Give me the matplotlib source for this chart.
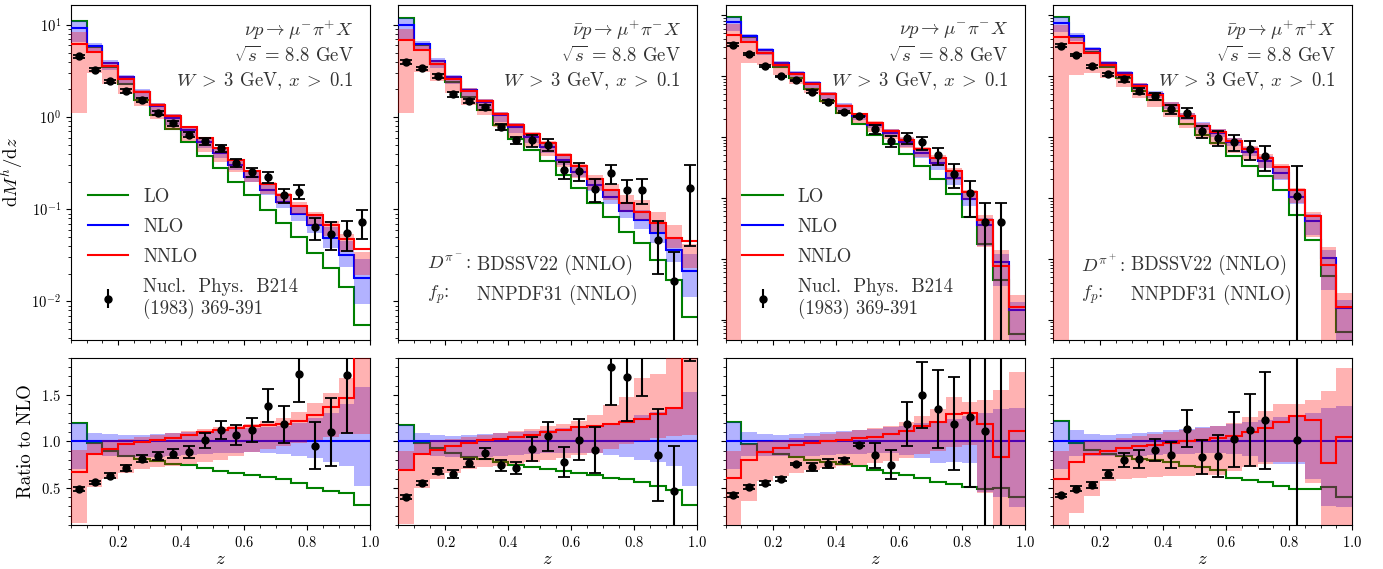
import matplotlib
matplotlib.use("Agg")
import matplotlib.pyplot as plt
import numpy as np
from matplotlib.lines import Line2D
from matplotlib.ticker import LogLocator, MultipleLocator, NullFormatter

plt.rcParams.update({
    "font.family": "serif",
    "font.serif": ["cmr10"],
    "mathtext.fontset": "cm",
    "axes.formatter.use_mathtext": True,
    "font.size": 13.5,
    "xtick.labelsize": 10.5,
    "ytick.labelsize": 10.5,
})

# z bins (0.05 wide) and bin centres for the data
z_edges = [0.05, 0.10, 0.15, 0.20, 0.25, 0.30, 0.35, 0.40, 0.45, 0.50,
           0.55, 0.60, 0.65, 0.70, 0.75, 0.80, 0.85, 0.90, 0.95, 1.00]
z_mid = [0.075, 0.125, 0.175, 0.225, 0.275, 0.325, 0.375, 0.425, 0.475, 0.525,
         0.575, 0.625, 0.675, 0.725, 0.775, 0.825, 0.875, 0.925, 0.975]
nan = np.nan

# --- panel 1: nu p -> mu- pi+ X ---
nlo_1 = [9.3, 5.9, 3.9, 2.7, 1.88, 1.32, 0.99, 0.73, 0.54, 0.41, 0.30, 0.224, 0.161, 0.12, 0.090, 0.067, 0.049, 0.032, 0.018]
lo_1 = [1.20, 0.98, 0.90, 0.84, 0.81, 0.79, 0.76, 0.745, 0.71, 0.68, 0.66, 0.64, 0.615, 0.59, 0.555, 0.50, 0.47, 0.445, 0.31]
nnlo_1 = [0.67, 0.86, 0.92, 0.97, 0.99, 1.02, 1.04, 1.07, 1.10, 1.12, 1.14, 1.16, 1.18, 1.19, 1.22, 1.28, 1.37, 1.47, 2.05]
nlo_lo_1 = [0.70, 0.86, 0.84, 0.83, 0.83, 0.83, 0.84, 0.85, 0.86, 0.87, 0.88, 0.89, 0.88, 0.86, 0.84, 0.82, 0.78, 0.73, 0.52]
nlo_hi_1 = [1.20, 1.09, 1.08, 1.07, 1.07, 1.08, 1.09, 1.10, 1.11, 1.12, 1.13, 1.14, 1.15, 1.17, 1.20, 1.25, 1.30, 1.40, 1.59]
nnlo_lo_1 = [0.12, 0.51, 0.59, 0.66, 0.70, 0.72, 0.74, 0.76, 0.78, 0.80, 0.84, 0.89, 0.92, 0.95, 0.98, 1.02, 1.05, 1.08, 1.08]
nnlo_hi_1 = [0.91, 0.98, 1.01, 1.03, 1.05, 1.07, 1.09, 1.11, 1.13, 1.15, 1.17, 1.19, 1.22, 1.25, 1.32, 1.41, 1.52, 1.68, 1.92]
data_1 = [4.56, 3.29, 2.46, 1.93, 1.53, 1.11, 0.86, 0.647, 0.545, 0.46, 0.32, 0.252, 0.223, 0.142, 0.155, 0.064, 0.054, 0.055, 0.073]
err_1 = [0.19, 0.12, 0.10, 0.08, 0.075, 0.053, 0.05, 0.044, 0.042, 0.041, 0.033, 0.029, 0.029, 0.024, 0.027, 0.017, 0.018, 0.02, 0.025]

# --- panel 2: nubar p -> mu+ pi- X ---
nlo_2 = [10.0, 6.17, 4.1, 2.74, 1.96, 1.47, 1.05, 0.785, 0.61, 0.475, 0.347, 0.255, 0.182, 0.136, 0.097, 0.076, 0.055, 0.036, 0.0214]
lo_2 = [1.18, 0.98, 0.93, 0.875, 0.836, 0.814, 0.78, 0.743, 0.72, 0.707, 0.68, 0.66, 0.643, 0.607, 0.59, 0.564, 0.518, 0.475, 0.32]
nnlo_2 = [0.69, 0.86, 0.91, 0.95, 0.98, 1.01, 1.03, 1.05, 1.07, 1.10, 1.125, 1.15, 1.17, 1.19, 1.21, 1.24, 1.29, 1.36, 2.1]
nlo_lo_2 = [0.70, 0.86, 0.84, 0.83, 0.83, 0.83, 0.84, 0.85, 0.86, 0.87, 0.88, 0.88, 0.87, 0.85, 0.83, 0.80, 0.78, 0.74, 0.52]
nlo_hi_2 = [1.18, 1.09, 1.07, 1.06, 1.07, 1.08, 1.09, 1.10, 1.11, 1.12, 1.14, 1.15, 1.16, 1.19, 1.23, 1.28, 1.32, 1.36, 1.53]
nnlo_lo_2 = [0.11, 0.50, 0.60, 0.66, 0.70, 0.72, 0.74, 0.76, 0.78, 0.80, 0.82, 0.85, 0.88, 0.92, 0.97, 1.00, 1.04, 1.06, 1.07]
nnlo_hi_2 = [0.90, 0.98, 1.01, 1.03, 1.05, 1.07, 1.09, 1.11, 1.13, 1.16, 1.19, 1.22, 1.28, 1.39, 1.48, 1.68, 1.72, 1.90, 1.95]
data_2 = [4.0, 3.4, 2.8, 1.78, 1.5, 1.28, 0.78, 0.56, 0.56, 0.5, 0.27, 0.26, 0.166, 0.245, 0.164, 0.164, 0.047, 0.0168, 0.17]
err_2 = [0.2, 0.14, 0.14, 0.11, 0.09, 0.09, 0.06, 0.05, 0.08, 0.075, 0.055, 0.055, 0.045, 0.056, 0.046, 0.051, 0.027, 0.0175, 0.13]

# --- panel 3: nu p -> mu- pi- X ---
nlo_3 = [7.8, 4.5, 2.67, 1.65, 1.13, 0.76, 0.50, 0.32, 0.224, 0.158, 0.115, 0.081, 0.054, 0.037, 0.021, 0.0095, 0.0036, 0.0009, 0.000145]
lo_3 = [1.21, 0.97, 0.89, 0.86, 0.83, 0.80, 0.78, 0.76, 0.74, 0.69, 0.66, 0.64, 0.61, 0.56, 0.54, 0.51, 0.49, 0.50, 0.40]
nnlo_3 = [0.61, 0.80, 0.89, 0.93, 0.96, 0.98, 1.00, 1.02, 1.04, 1.05, 1.08, 1.11, 1.16, 1.21, 1.29, 1.30, 1.19, 0.83, 1.11]
nlo_lo_3 = [0.70, 0.84, 0.84, 0.84, 0.84, 0.84, 0.85, 0.86, 0.86, 0.87, 0.87, 0.85, 0.82, 0.77, 0.78, 0.77, 0.45, 0.40, 0.29]
nlo_hi_3 = [1.21, 1.10, 1.08, 1.07, 1.08, 1.09, 1.10, 1.11, 1.12, 1.13, 1.15, 1.17, 1.20, 1.22, 1.24, 1.27, 1.30, 1.35, 1.36]
nnlo_lo_3 = [0.0, 0.36, 0.57, 0.63, 0.66, 0.69, 0.71, 0.73, 0.75, 0.77, 0.79, 0.82, 0.86, 0.90, 0.94, 0.96, 0.44, 0.0, 0.0]
nnlo_hi_3 = [0.90, 0.97, 1.00, 1.02, 1.04, 1.06, 1.08, 1.10, 1.12, 1.14, 1.17, 1.21, 1.27, 1.35, 1.48, 1.42, 1.45, 1.55, 1.75]
data_3 = [3.28, 2.28, 1.47, 0.98, 0.855, 0.55, 0.38, 0.256, 0.216, 0.134, 0.086, 0.096, 0.081, 0.05, 0.025, 0.012, 0.004, 0.004, nan]
err_3 = [0.16, 0.09, 0.05, 0.035, 0.017, 0.03, 0.025, 0.0065, 0.0035, 0.022, 0.018, 0.019, 0.019, 0.0155, 0.0105, 0.0072, 0.0041, 0.0041, nan]

# --- panel 4: nubar p -> mu+ pi+ X ---
nlo_4 = [7.5, 4.5, 2.74, 1.65, 1.1, 0.71, 0.507, 0.335, 0.22, 0.15, 0.115, 0.081, 0.057, 0.040, 0.026, 0.0105, 0.0041, 0.00103, 0.000155]
lo_4 = [1.22, 0.98, 0.91, 0.86, 0.84, 0.81, 0.80, 0.78, 0.74, 0.72, 0.69, 0.61, 0.58, 0.56, 0.52, 0.49, 0.49, 0.51, 0.40]
nnlo_4 = [0.59, 0.78, 0.86, 0.90, 0.93, 0.95, 0.96, 0.98, 1.00, 1.02, 1.04, 1.06, 1.10, 1.14, 1.21, 1.27, 1.23, 0.77, 1.05]
nlo_lo_4 = [0.70, 0.84, 0.84, 0.84, 0.84, 0.84, 0.85, 0.86, 0.86, 0.87, 0.87, 0.86, 0.84, 0.78, 0.76, 0.76, 0.60, 0.30, 0.29]
nlo_hi_4 = [1.22, 1.12, 1.08, 1.07, 1.08, 1.09, 1.10, 1.12, 1.13, 1.15, 1.17, 1.19, 1.21, 1.23, 1.26, 1.28, 1.30, 1.36, 1.38]
nnlo_lo_4 = [0.0, 0.23, 0.41, 0.57, 0.60, 0.61, 0.62, 0.63, 0.63, 0.64, 0.64, 0.68, 0.72, 0.76, 0.78, 0.78, 0.55, 0.0, 0.0]
nnlo_hi_4 = [0.90, 0.97, 1.00, 1.02, 1.04, 1.06, 1.08, 1.10, 1.12, 1.14, 1.17, 1.20, 1.26, 1.33, 1.40, 1.40, 1.44, 1.54, 1.79]
data_4 = [3.14, 2.21, 1.45, 1.07, 0.88, 0.575, 0.46, 0.285, 0.25, 0.125, 0.097, 0.083, 0.064, 0.049, nan, 0.0107, nan, nan, nan]
err_4 = [0.15, 0.11, 0.08, 0.066, 0.088, 0.067, 0.061, 0.047, 0.044, 0.028, 0.026, 0.024, 0.022, 0.021, nan, 0.023, nan, nan, nan]

process_labels = [r"$\nu p \to \mu^{-}\pi^{+}X$", r"$\bar{\nu} p \to \mu^{+}\pi^{-}X$",
                  r"$\nu p \to \mu^{-}\pi^{-}X$", r"$\bar{\nu} p \to \mu^{+}\pi^{+}X$"]
ff_labels = [None, r"$D^{\pi^-}$:", None, r"$D^{\pi^+}$:"]
top_ylims = [(0.00385, 16.5), (0.00385, 16.5), (4.7e-5, 14.6), (4.7e-5, 14.6)]

panels = [
    (nlo_1, lo_1, nnlo_1, nlo_lo_1, nlo_hi_1, nnlo_lo_1, nnlo_hi_1, data_1, err_1),
    (nlo_2, lo_2, nnlo_2, nlo_lo_2, nlo_hi_2, nnlo_lo_2, nnlo_hi_2, data_2, err_2),
    (nlo_3, lo_3, nnlo_3, nlo_lo_3, nlo_hi_3, nnlo_lo_3, nnlo_hi_3, data_3, err_3),
    (nlo_4, lo_4, nnlo_4, nlo_lo_4, nlo_hi_4, nnlo_lo_4, nnlo_hi_4, data_4, err_4),
]
TXT = "#333333"


def draw_column(ax, axr, nlo, lo_r, nnlo_r, nlo_lo, nlo_hi, nnlo_lo, nnlo_hi, data, err):
    nlo = np.array(nlo)
    data = np.array(data)
    err = np.array(err)
    one = np.ones_like(nlo)

    # top: absolute predictions, bottom: ratios to NLO
    for a, scale in ((ax, nlo), (axr, one)):
        a.stairs(scale * np.array(lo_r), z_edges, baseline=None, color="green", lw=1.5, zorder=2)
        a.stairs(scale * np.array(nlo_hi), z_edges, baseline=scale * np.array(nlo_lo),
                 fill=True, color="blue", alpha=0.3, lw=1, zorder=3)
        a.stairs(scale, z_edges, baseline=None, color="blue", lw=1.5, zorder=4)
        a.stairs(scale * np.array(nnlo_hi), z_edges, baseline=scale * np.array(nnlo_lo),
                 fill=True, color="red", alpha=0.3, lw=1, zorder=5)
        a.stairs(scale * np.array(nnlo_r), z_edges, baseline=None, color="red", lw=1.5, zorder=6)

    eb = dict(fmt="o", color="black", ms=5, capsize=4, elinewidth=1.5, capthick=1.3, zorder=7)
    ax.errorbar(z_mid, data, yerr=err, **eb)
    axr.errorbar(z_mid, data / nlo, yerr=err / nlo, **eb)


fig, axes = plt.subplots(2, 4, figsize=(13.83, 5.69), dpi=100,
                         gridspec_kw=dict(height_ratios=[2, 1], left=0.0513, right=0.9776,
                                          top=0.9912, bottom=0.0773, wspace=0.094, hspace=0.072))

for i in range(4):
    ax, axr = axes[0, i], axes[1, i]
    draw_column(ax, axr, *panels[i])

    ax.set_yscale("log")
    ax.set_ylim(*top_ylims[i])
    ax.yaxis.set_major_locator(LogLocator(base=10, numticks=12))
    ax.yaxis.set_minor_locator(LogLocator(base=10, subs=np.arange(2, 10), numticks=12))
    axr.set_ylim(0.1, 1.9)
    axr.yaxis.set_major_locator(MultipleLocator(0.5))
    axr.yaxis.set_minor_locator(MultipleLocator(0.1))

    for a in (ax, axr):
        a.set_xlim(0.05, 1.0)
        a.xaxis.set_major_locator(MultipleLocator(0.2))
        a.xaxis.set_minor_locator(MultipleLocator(0.05))
    ax.xaxis.set_major_formatter(NullFormatter())
    axr.set_xlabel(r"$z$", labelpad=0)

    if i > 0:
        ax.yaxis.set_major_formatter(NullFormatter())
        ax.yaxis.set_minor_formatter(NullFormatter())
        axr.yaxis.set_major_formatter(NullFormatter())

    # kinematics text, top right
    for k, txt in enumerate([process_labels[i], r"$\sqrt{s}\,=\,8.8$ GeV",
                             r"$W\;>\;3$ GeV, $x\;>\;0.1$"]):
        ax.text(0.945, 0.926 - 0.077 * k, txt, transform=ax.transAxes,
                ha="right", va="center", color=TXT)

    if ff_labels[i] is not None:
        ax.text(0.095, 0.224, ff_labels[i], transform=ax.transAxes, va="center", color=TXT)
        ax.text(0.262, 0.224, "BDSSV22 (NNLO)", transform=ax.transAxes, va="center", color=TXT)
        ax.text(0.095, 0.134, r"$f_p$:", transform=ax.transAxes, va="center", color=TXT)
        ax.text(0.262, 0.134, "NNPDF31 (NNLO)", transform=ax.transAxes, va="center", color=TXT)
    else:
        handles = [Line2D([], [], color="green", lw=1.5),
                   Line2D([], [], color="blue", lw=1.5),
                   Line2D([], [], color="red", lw=1.5),
                   ax.errorbar([], [], yerr=[], fmt="o", color="black", ms=5, capsize=4,
                               elinewidth=1.5, capthick=1.3)]
        leg = ax.legend(handles, ["LO", "NLO", "NNLO", "Nucl.  Phys.  B214\n(1983) 369-391"],
                        loc="lower left", bbox_to_anchor=(0.0, 0.012), frameon=False,
                        handlelength=2.15, handletextpad=0.8, labelspacing=0.64)
        for t in leg.get_texts():
            t.set_color(TXT)

axes[0, 0].set_ylabel(r"$\mathrm{d}M^h/\mathrm{d}z$")
axes[1, 0].set_ylabel("Ratio to NLO")
axes[0, 0].yaxis.set_label_coords(-0.15, 0.5)
axes[1, 0].yaxis.set_label_coords(-0.12, 0.5)

fig.savefig("out.png", dpi=100)
